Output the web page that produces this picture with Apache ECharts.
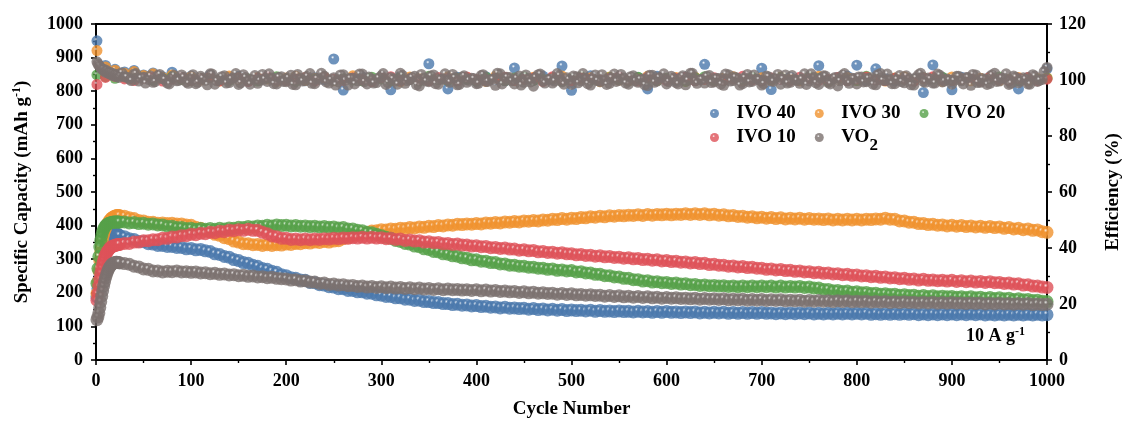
<!DOCTYPE html>
<html><head><meta charset="utf-8">
<script src="https://cdn.jsdelivr.net/npm/echarts@6/dist/echarts.min.js"></script>
<style>html,body{margin:0;padding:0;background:#fff}#c{width:1131px;height:425px}</style>
</head><body><div id="c"></div>
<script>
// Cycle numbers at which capacity (and VO2 efficiency) were read
const cycles = [1,2,3,4,5,6,7,8,9,10,11,12,13,14,15,16,17,18,19,20,21,22,23,24,25,
30,35,40,45,50,55,60,65,70,75,80,85,90,95,
100,105,110,115,120,125,130,135,140,145,150,155,160,165,170,175,180,185,190,195,
200,205,210,215,220,225,230,235,240,245,250,255,260,265,270,275,280,285,290,295,
300,305,310,315,320,325,330,335,340,345,350,355,360,365,370,375,380,385,390,395,
400,405,410,415,420,425,430,435,440,445,450,455,460,465,470,475,480,485,490,495,
500,505,510,515,520,525,530,535,540,545,550,555,560,565,570,575,580,585,590,595,
600,605,610,615,620,625,630,635,640,645,650,655,660,665,670,675,680,685,690,695,
700,705,710,715,720,725,730,735,740,745,750,755,760,765,770,775,780,785,790,795,
800,805,810,815,820,825,830,835,840,845,850,855,860,865,870,875,880,885,890,895,
900,905,910,915,920,925,930,935,940,945,950,955,960,965,970,975,980,985,990,995,
1000];
// Extra cycle numbers at which VO2 efficiency was read (in between)
const cyclesVO2b = [27,32,37,42,47,52,57,62,67,72,77,82,87,92,97,
102,107,112,117,122,127,132,137,142,147,152,157,162,167,172,177,182,187,192,197,
202,207,212,217,222,227,232,237,242,247,252,257,262,267,272,277,282,287,292,297,
302,307,312,317,322,327,332,337,342,347,352,357,362,367,372,377,382,387,392,397,
402,407,412,417,422,427,432,437,442,447,452,457,462,467,472,477,482,487,492,497,
502,507,512,517,522,527,532,537,542,547,552,557,562,567,572,577,582,587,592,597,
602,607,612,617,622,627,632,637,642,647,652,657,662,667,672,677,682,687,692,697,
702,707,712,717,722,727,732,737,742,747,752,757,762,767,772,777,782,787,792,797,
802,807,812,817,822,827,832,837,842,847,852,857,862,867,872,877,882,887,892,897,
902,907,912,917,922,927,932,937,942,947,952,957,962,967,972,977,982,987,992,997];
// Cycle numbers at which the IVO efficiencies were read
const effCycles = [1,10,20,30,40,50,60,70,80,90,100,110,120,130,140,150,160,170,180,190,
200,210,220,230,240,250,260,270,280,290,300,310,320,330,340,350,360,370,380,390,
400,410,420,430,440,450,460,470,480,490,500,510,520,530,540,550,560,570,580,590,
600,610,620,630,640,650,660,670,680,690,700,710,720,730,740,750,760,770,780,790,
800,810,820,830,840,850,860,870,880,890,900,910,920,930,940,950,960,970,980,990,1000];

const seriesNames = ['IVO 40','IVO 30','IVO 20','IVO 10','VO2'];

const capIVO40 = [188,212,238,260,279,296,311,323,334,343,350,356,361,365,368,371,373,374,376,375,376,374,373,372,370,
367,361,359,353,352,346,345,341,341,338,338,335,335,331,
332,328,329,325,323,316,314,308,306,299,296,290,288,282,279,272,270,264,261,254,
251,245,243,238,237,231,230,224,223,218,217,212,212,207,207,203,203,199,199,194,
193,189,189,185,185,181,181,177,178,174,174,171,171,168,168,165,166,163,164,161,
162,159,160,157,158,155,157,154,155,153,154,151,153,150,152,149,151,148,150,147,
149,147,148,146,148,145,147,145,146,144,146,144,145,143,145,143,144,142,144,142,
144,142,143,141,143,141,143,140,142,140,142,140,142,139,141,139,141,139,141,139,
141,139,140,138,140,138,140,138,140,138,140,137,139,137,139,137,139,137,139,137,
139,137,139,136,138,136,138,136,138,136,138,136,138,135,137,135,137,135,137,135,
137,135,137,135,137,135,137,134,136,134,136,134,136,134,136,134,136,134,136,134,
135];
const capIVO30 = [198,232,266,296,322,343,360,373,384,392,399,405,410,414,418,421,423,425,427,428,429,430,430,430,429,
428,423,421,415,414,410,410,407,408,406,407,405,405,402,
401,395,392,385,382,374,371,364,361,354,351,346,346,343,344,341,343,341,343,342,
345,344,347,346,349,348,351,350,353,351,354,355,361,364,370,372,378,379,384,385,
388,387,390,389,392,391,394,393,396,395,398,397,400,399,402,401,404,403,405,404,
406,405,408,407,409,408,411,410,412,411,414,413,415,414,417,416,419,418,421,419,
422,421,424,423,426,425,428,426,429,428,430,429,431,430,432,430,433,431,433,432,
434,432,434,433,435,433,435,433,435,432,434,431,432,429,430,427,428,425,426,423,
425,422,424,421,423,420,422,420,422,419,421,419,420,418,420,417,419,417,419,417,
419,417,419,418,420,419,422,419,419,414,414,410,410,406,406,403,404,401,402,399,
401,398,400,397,399,396,398,395,397,394,396,392,394,390,392,388,390,386,387,382,
380];
const capIVO20 = [228,272,308,336,356,370,381,389,395,399,402,404,406,407,408,409,410,410,411,411,411,411,411,411,410,
411,408,409,406,407,404,405,402,402,398,398,394,394,391,
392,389,391,389,391,389,392,390,393,392,395,394,397,396,399,398,401,399,402,400,
401,399,400,398,399,397,398,396,397,395,396,393,394,390,390,386,385,380,379,374,
370,365,362,356,353,347,345,339,337,331,329,323,322,316,315,310,309,304,303,298,
298,294,294,290,290,286,286,282,282,279,279,276,276,273,273,270,271,267,268,265,
266,262,263,259,259,255,255,251,251,247,247,243,243,239,239,235,236,232,233,230,
231,228,229,226,227,224,225,222,223,221,222,220,221,219,220,218,220,218,220,218,
220,218,220,217,220,217,219,217,219,216,217,214,214,210,210,206,207,204,205,202,
203,200,201,198,199,196,197,195,196,193,194,192,193,190,192,189,191,188,190,188,
189,187,188,186,188,185,187,184,186,183,185,182,184,180,182,179,180,177,178,175,
174];
const capIVO10 = [178,198,220,240,258,273,286,296,305,312,318,323,327,331,334,336,338,339,340,341,342,343,343,344,344,
347,347,351,351,355,355,358,358,362,362,366,366,370,370,
374,373,377,376,380,379,383,382,386,385,388,386,389,386,386,380,376,369,367,362,
362,359,360,358,360,358,360,359,361,360,362,361,363,362,364,363,365,363,365,363,
364,361,362,359,360,356,357,354,355,351,352,349,350,346,347,344,345,342,342,339,
340,337,338,334,335,332,333,330,330,327,328,325,326,322,323,320,321,318,319,316,
316,313,314,311,312,309,310,307,308,305,306,303,304,301,302,299,300,297,298,295,
296,293,294,291,292,289,290,287,288,284,285,282,282,279,280,277,278,275,276,273,
273,270,271,268,269,266,267,264,265,262,263,260,261,258,259,256,257,254,255,252,
253,250,251,248,249,246,247,244,245,242,243,240,241,238,240,237,238,236,237,235,
237,234,236,233,235,232,234,231,233,230,231,228,229,226,227,223,224,220,220,217,
216];
const capVO2 = [120,128,140,156,173,190,206,220,233,244,254,262,269,275,279,283,286,288,289,290,291,291,290,290,289,
287,285,279,277,271,270,265,265,262,264,263,265,262,263,
261,262,259,260,257,258,255,256,253,254,251,252,249,250,247,248,245,246,243,242,
241,238,239,235,236,232,232,228,229,225,226,223,224,221,222,219,220,217,219,216,
218,215,217,214,216,213,215,212,214,211,213,210,212,209,211,209,210,208,209,207,
209,206,208,205,207,204,205,203,204,201,203,200,202,199,200,198,199,196,198,195,
197,194,195,193,194,192,193,190,192,189,191,188,190,187,189,186,188,185,187,184,
186,184,185,183,184,182,184,181,183,181,182,180,182,179,181,179,181,178,180,178,
180,177,179,177,179,176,178,176,178,175,177,175,177,175,176,174,176,174,176,173,
175,173,175,172,174,172,174,171,173,171,173,171,172,170,172,170,172,169,171,169,
171,169,170,168,170,168,170,167,169,167,169,167,168,166,168,166,168,165,167,165,
166];

const effIVO40 = [114.0,105.2,103.8,102.9,103.4,101.8,102.5,101.2,102.8,100.6,
101.4,100.2,101.7,99.8,100.9,101.3,99.5,100.7,101.0,99.9,
100.5,101.2,99.7,100.8,100.1,107.5,96.4,100.6,101.1,99.6,
100.9,96.5,101.3,100.2,99.8,105.8,100.4,96.8,101.0,100.3,
99.5,101.2,100.1,99.7,104.3,100.8,99.9,101.4,100.2,105.0,
96.3,100.7,101.5,99.8,100.3,101.0,99.6,100.9,96.8,101.3,
100.1,99.7,101.1,100.4,105.6,99.9,100.8,101.2,99.5,100.6,
104.2,96.6,100.3,101.0,99.8,100.7,105.1,99.6,100.9,101.4,
105.3,99.9,104.0,100.5,99.7,101.1,100.2,95.5,105.4,100.8,
96.5,101.0,100.4,99.8,101.2,100.1,99.6,96.8,100.9,100.3,
104.0];
const effIVO30 = [110.5,104.6,103.5,102.4,103.0,101.6,102.2,100.9,101.8,100.3,
101.2,100.0,100.8,99.6,101.4,100.2,99.8,100.9,100.4,99.5,
100.7,101.3,99.9,100.5,101.0,99.7,100.3,101.5,100.1,99.6,
100.8,100.2,99.4,101.1,100.6,99.9,100.4,101.2,99.7,100.9,
100.0,99.5,101.3,100.7,99.8,100.2,101.0,99.6,100.5,101.4,
99.9,100.3,100.8,99.4,101.1,100.0,99.7,100.6,101.3,99.8,
100.4,100.9,99.5,101.0,100.2,99.8,100.7,101.2,99.6,100.3,
100.8,99.9,101.1,100.4,99.7,100.6,101.3,99.5,100.1,100.9,
99.8,101.0,100.3,99.6,100.7,101.2,99.9,100.4,100.8,99.5,
101.1,100.2,99.7,100.6,101.0,99.8,100.3,100.9,99.6,100.5,
100.8];
const effIVO20 = [101.8,101.2,100.6,101.0,100.3,100.8,99.9,100.5,101.1,100.2,
99.7,100.6,101.0,100.1,99.8,100.9,100.4,99.6,100.7,101.2,
100.0,99.5,100.8,100.3,101.1,99.9,100.5,100.0,99.7,101.0,
100.4,99.8,100.9,100.2,99.6,101.3,100.1,99.9,100.6,100.3,
99.7,101.0,100.5,99.8,100.7,101.1,99.9,100.2,100.8,99.6,
100.4,101.2,100.0,99.7,100.9,100.3,99.8,101.0,100.5,99.9,
100.6,100.1,99.5,100.8,101.2,100.0,99.8,100.6,100.3,101.0,
99.7,100.4,100.9,99.9,100.2,101.1,100.5,99.6,100.7,100.0,
99.8,101.3,100.3,99.9,100.6,100.1,99.7,100.9,100.4,101.0,
99.9,100.3,100.7,99.6,100.5,101.1,100.0,99.8,100.8,100.2,
100.6];
const effIVO10 = [98.4,100.9,101.3,100.4,99.8,100.7,101.0,99.6,100.3,100.9,
99.9,100.5,101.1,99.7,100.2,100.8,99.5,100.6,101.2,100.0,
99.8,100.4,100.9,99.6,101.0,100.3,99.9,100.7,100.1,99.5,
100.8,101.2,99.8,100.4,100.0,99.7,100.9,100.5,99.6,101.1,
100.2,99.9,100.6,101.0,99.8,100.3,100.7,99.5,101.2,100.1,
99.7,100.8,100.4,99.9,100.6,101.1,100.0,99.6,100.9,100.3,
99.8,100.5,101.0,99.7,100.2,100.8,99.9,100.4,101.3,100.0,
99.6,100.7,100.3,99.8,101.0,100.5,99.9,100.2,100.9,99.7,
100.4,101.1,100.0,99.8,100.6,100.3,99.5,100.8,101.2,100.1,
99.9,100.4,100.7,99.6,101.0,100.2,99.8,100.5,100.9,99.7,
100.3];
const effVO2 = [106.5,105.8,105.2,104.9,104.3,104.0,103.6,103.9,103.2,102.8,103.4,102.6,102.9,102.2,102.7,101.9,102.4,101.6,102.1,101.4,102.0,101.2,101.8,100.9,101.5,
101.2,100.4,102.1,99.6,101.0,100.2,99.2,101.6,100.5,98.9,100.9,99.7,101.8,99.3,
100.6,98.7,101.3,99.9,102.2,98.5,100.3,101.5,99.1,100.8,98.4,101.9,99.8,100.4,98.8,102.0,99.5,100.7,98.6,101.2,
99.4,101.7,98.3,100.5,99.9,102.3,98.7,100.2,101.4,98.9,100.8,99.3,101.9,98.2,100.6,99.7,102.1,98.6,100.3,99.1,
101.5,98.4,100.9,99.6,102.4,98.8,100.1,101.3,97.9,100.7,99.4,101.8,98.5,100.4,99.9,102.0,98.3,101.1,99.2,100.6,
98.7,101.6,99.5,100.3,98.1,102.2,99.8,100.9,98.6,101.4,99.2,100.5,97.8,101.9,99.6,100.2,98.9,102.3,99.3,100.8,
98.4,101.2,99.7,100.6,98.2,101.8,99.4,100.1,98.8,102.1,99.9,100.7,98.5,101.5,99.2,100.4,98.0,101.7,99.6,100.9,
98.6,101.3,99.1,100.8,98.3,102.4,99.7,100.2,98.9,101.6,99.3,100.5,98.1,101.9,99.8,100.6,98.7,102.0,99.5,100.3,
98.2,101.4,99.9,100.7,98.5,101.8,99.2,100.1,98.8,102.2,99.6,100.9,98.4,101.5,99.1,100.4,97.9,101.7,99.7,100.6,
98.6,101.1,99.4,100.8,98.3,102.3,99.8,100.2,98.7,101.6,99.0,100.5,98.2,101.9,99.5,100.7,98.9,102.1,99.3,100.4,
98.5,101.3,99.7,100.9,98.1,101.8,99.2,100.3,98.8,102.4,99.6,100.6,98.4,101.4,99.0,100.8,98.6,101.9,99.5,100.2,
104.5];
const effVO2b = [102.6,101.1,99.8,102.3,100.7,98.9,101.5,99.4,102.0,100.2,98.6,101.7,99.9,101.0,98.8,
101.9,99.2,100.6,98.3,102.1,99.7,101.2,98.9,100.4,102.3,99.0,100.9,98.5,101.6,99.8,100.3,102.2,98.7,101.0,99.5,
100.8,98.4,102.0,99.6,101.3,98.8,100.5,102.4,99.3,100.1,98.2,101.8,99.9,100.6,98.6,102.1,99.4,101.1,98.9,100.7,
102.3,99.1,100.4,98.5,101.7,99.8,100.9,98.3,102.0,99.6,101.4,98.7,100.2,102.2,99.2,100.8,98.4,101.5,99.9,100.5,
98.8,101.9,99.5,100.3,102.4,98.6,101.0,99.7,100.6,98.2,101.8,99.3,100.9,102.1,98.9,100.4,99.6,101.6,98.5,100.2,
101.4,99.0,102.3,98.7,100.5,99.8,101.9,98.4,100.8,99.5,102.0,98.9,101.2,99.7,100.3,98.3,101.7,99.2,100.9,102.2,
99.4,100.7,98.6,101.5,99.9,102.4,98.8,100.2,101.3,99.1,100.6,98.5,102.1,99.6,101.0,98.2,100.8,99.3,101.8,100.1,
98.7,101.2,99.5,102.0,100.4,98.9,101.6,99.8,100.3,98.4,102.2,99.0,100.7,101.4,98.6,100.9,99.7,102.3,98.8,100.5,
101.1,99.3,100.6,98.5,101.9,99.9,102.1,98.7,100.2,99.4,101.5,98.3,100.8,102.4,99.2,100.4,98.9,101.7,99.6,100.0,
99.8,101.3,98.6,100.9,102.0,99.1,100.5,98.4,101.8,99.5,100.7,102.2,98.8,101.0,99.7,100.3,98.5,101.4,99.9,103.0];

const capData = [capIVO40, capIVO30, capIVO20, capIVO10, capVO2];
const baseColors = ['#4a78ac', '#f0922e', '#55a048', '#de5158', '#7b716f'];
const pairs = (xs, ys) => xs.map((c, k) => [c, ys[k]]);
const effPoints = [
  pairs(effCycles, effIVO40),
  pairs(effCycles, effIVO30),
  pairs(effCycles, effIVO20),
  pairs(effCycles, effIVO10),
  pairs(cycles, effVO2).concat(pairs(cyclesVO2b, effVO2b))
];

const FONT = "'Liberation Serif', 'Times New Roman', serif";

function ball(hex) {
  return new echarts.graphic.RadialGradient(0.4, 0.35, 0.5, [
    { offset: 0, color: '#ffffff' },
    { offset: 0.3, color: hex },
    { offset: 1, color: hex }
  ]);
}

const series = [];
seriesNames.forEach((name, i) => {
  series.push({
    name: name, type: 'scatter', yAxisIndex: 0, symbol: 'circle', symbolSize: 13,
    itemStyle: { color: ball(baseColors[i]) },
    data: pairs(cycles, capData[i])
  });
});
seriesNames.forEach((name, i) => {
  series.push({
    name: name, type: 'scatter', yAxisIndex: 1, symbol: 'circle', symbolSize: 11,
    itemStyle: { color: ball(baseColors[i]) },
    data: effPoints[i]
  });
});

const plain = v => String(v);
const labelStyle = { fontFamily: FONT, fontWeight: 'bold', fontSize: 18, color: '#000', formatter: plain };
const axisLineStyle = { show: true, lineStyle: { color: '#000', width: 2 } };
const tickStyle = { show: true, length: 5, lineStyle: { color: '#000', width: 1.6 } };
const minorTickStyle = { show: true, splitNumber: 2, length: 3, lineStyle: { color: '#000', width: 1.4 } };
const legendText = {
  fontFamily: FONT, fontWeight: 'bold', fontSize: 19, color: '#000',
  rich: {
    n: { fontFamily: FONT, fontWeight: 'bold', fontSize: 19, color: '#000', lineHeight: 20 },
    s: { fontFamily: FONT, fontWeight: 'bold', fontSize: 17, color: '#000', lineHeight: 14, verticalAlign: 'bottom', padding: [0, 0, -7, 0] }
  }
};
const legendFmt = name => name === 'VO2' ? '{n|VO}{s|2}' : '{n|' + name + '}';

const chart = echarts.init(document.getElementById('c'), null, { renderer: 'canvas' });
chart.setOption({
  animation: false,
  backgroundColor: '#fff',
  grid: { left: 96, right: 80, top: 24, bottom: 65, show: true, borderColor: '#000', borderWidth: 2, backgroundColor: 'transparent' },
  legend: [
    { left: 705, top: 99, orient: 'horizontal', icon: 'circle', itemWidth: 34, itemHeight: 9, itemGap: 19,
      data: ['IVO 40', 'IVO 30', 'IVO 20'], textStyle: legendText, formatter: legendFmt, selectedMode: false },
    { left: 705, top: 123, orient: 'horizontal', icon: 'circle', itemWidth: 34, itemHeight: 9, itemGap: 19,
      data: ['IVO 10', 'VO2'], textStyle: legendText, formatter: legendFmt, selectedMode: false }
  ],
  xAxis: {
    type: 'value', min: 0, max: 1000, interval: 100,
    name: 'Cycle Number', nameLocation: 'middle', nameGap: 40,
    nameTextStyle: { fontFamily: FONT, fontWeight: 'bold', fontSize: 19, color: '#000' },
    axisLine: axisLineStyle, axisTick: tickStyle, minorTick: minorTickStyle,
    splitLine: { show: false }, minorSplitLine: { show: false },
    axisLabel: Object.assign({ margin: 12 }, labelStyle)
  },
  yAxis: [
    {
      type: 'value', min: 0, max: 1000, interval: 100, position: 'left',
      name: '{t|Specific Capacity (mAh g}{p|-1}{t|)}', nameLocation: 'middle', nameGap: 63, nameRotate: 90,
      nameTextStyle: {
        fontFamily: FONT, fontWeight: 'bold', fontSize: 19, color: '#000',
        rich: {
          t: { fontFamily: FONT, fontWeight: 'bold', fontSize: 19, color: '#000', lineHeight: 22 },
          p: { fontFamily: FONT, fontWeight: 'bold', fontSize: 12, color: '#000', lineHeight: 12, verticalAlign: 'top' }
        }
      },
      axisLine: axisLineStyle, axisTick: tickStyle, minorTick: minorTickStyle,
      splitLine: { show: false }, minorSplitLine: { show: false },
      axisLabel: Object.assign({ margin: 13 }, labelStyle)
    },
    {
      type: 'value', min: 0, max: 120, interval: 20, position: 'right',
      name: 'Efficiency (%)', nameLocation: 'middle', nameGap: 57, nameRotate: 90,
      nameTextStyle: { fontFamily: FONT, fontWeight: 'bold', fontSize: 19, color: '#000' },
      axisLine: axisLineStyle, axisTick: tickStyle, minorTick: minorTickStyle,
      splitLine: { show: false }, minorSplitLine: { show: false },
      axisLabel: Object.assign({ margin: 12 }, labelStyle)
    }
  ],
  graphic: [{
    type: 'text', left: 966, top: 326, z: 100,
    style: {
      text: '{t|10 A g}{p|-1}',
      rich: {
        t: { fontFamily: FONT, fontWeight: 'bold', fontSize: 18, fill: '#000', lineHeight: 20 },
        p: { fontFamily: FONT, fontWeight: 'bold', fontSize: 12, fill: '#000', lineHeight: 12, verticalAlign: 'top' }
      }
    }
  }],
  series: series
});
</script>
</body></html>
